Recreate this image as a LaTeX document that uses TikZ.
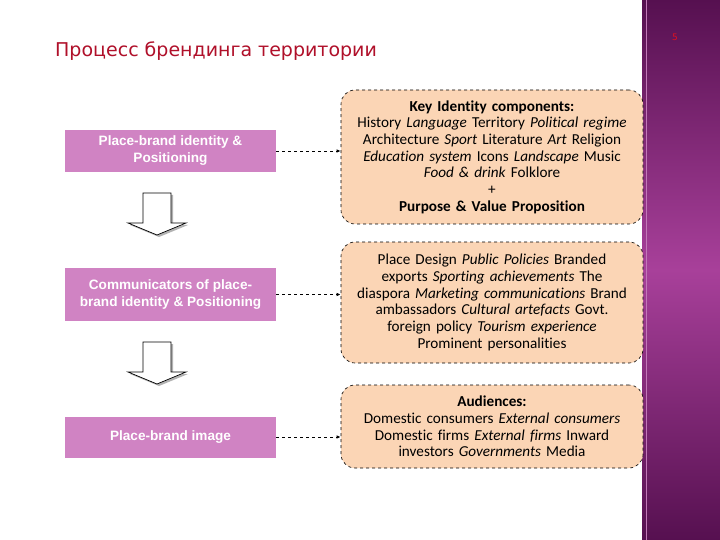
\documentclass[tikz,border=0pt]{standalone}
\usepackage{fontspec}
\setmainfont{Carlito}[Ligatures={NoCommon}]
\newfontfamily\titlefont{DejaVu Sans}
\newfontfamily\boxfont{Liberation Sans}
\usetikzlibrary{arrows.meta}
\definecolor{pinkfill}{HTML}{D083C3}
\definecolor{peach}{HTML}{FBD5B5}
\definecolor{titlered}{HTML}{B0102A}
\definecolor{pgred}{HTML}{E01020}
\definecolor{bandtop}{HTML}{561050}
\definecolor{bandmid}{HTML}{A8409A}
\tikzset{
  pinkbox/.style={fill=pinkfill, draw=none, minimum width=211pt, minimum height=42pt,
    text=white, font=\boxfont\bfseries\fontsize{13.6}{17}\selectfont, align=center, inner sep=2pt},
  peachbox/.style={fill=peach, draw=black, dashed, line width=0.6pt, rounded corners=14pt,
    minimum width=302pt, align=center, text width=296pt,
    font=\fontsize{15.2}{16.7}\selectfont, inner sep=3pt},
  link/.style={draw=black, dashed, line width=0.8pt, -{Latex[length=4pt,width=3.5pt]}},
  blockarrow/.style={fill=white, draw=black, line width=0.7pt},
  blockshadow/.style={fill=gray!60, draw=none}
}
\begin{document}
\begin{tikzpicture}[x=1pt,y=-1pt]
\useasboundingbox (0,0) rectangle (720,540);
\fill[white] (0,0) rectangle (720,540);
% right band
\shade[top color=bandtop, bottom color=bandtop, middle color=bandmid] (642,0) rectangle (720,540);
\draw[bandmid!70!white, line width=1pt] (646,0) -- (646,540);
\node[text=pgred, font=\titlefont\fontsize{9}{10}\selectfont] (pg) at (675,37) {5};
% title
\node[anchor=base west, text=titlered, font=\titlefont\fontsize{19}{22}\selectfont, inner sep=0pt] (title) at (55,57) {Процесс брендинга территории};
% left boxes
\node[pinkbox] (p1) at (170.5,151) {Place-brand identity \&\\Positioning};
\node[pinkbox, minimum height=53pt] (p2) at (170.5,294.5) {Communicators of place-\\brand identity \& Positioning};
\node[pinkbox, minimum height=41pt] (p3) at (170.5,437) {Place-brand image};
% block arrows
\foreach \y in {0,149}{
  \fill[blockshadow] (145,195+\y) -- (173,195+\y) -- (173,225+\y) -- (188,225+\y) -- (159,237+\y) -- (130,225+\y) -- (145,225+\y) -- cycle;
  \draw[blockarrow] (143,193+\y) -- (171,193+\y) -- (171,223+\y) -- (186,223+\y) -- (157,235+\y) -- (128,223+\y) -- (143,223+\y) -- cycle;
}
% right boxes
\node[peachbox, minimum height=134pt] (b1) at (492,157) {\textbf{Key Identity components:}\\
History \textit{Language} Territory \textit{Political regime}\\
Architecture \textit{Sport} Literature \textit{Art} Religion\\
\textit{Education system} Icons \textit{Landscape} Music\\
\textit{Food \& drink} Folklore\\
+\\
\textbf{Purpose \& Value Proposition}};
\node[peachbox, minimum height=121pt] (b2) at (492,302.5) {Place Design \textit{Public Policies} Branded\\
exports \textit{Sporting achievements} The\\
diaspora \textit{Marketing communications} Brand\\
ambassadors \textit{Cultural artefacts} Govt.\\
foreign policy \textit{Tourism experience}\\
Prominent personalities};
\node[peachbox, minimum height=83pt] (b3) at (492,426.5) {\textbf{Audiences:}\\
Domestic consumers \textit{External consumers}\\
Domestic firms \textit{External firms} Inward\\
investors \textit{Governments} Media};
% links
\draw[link] (p1.east) -- (b1.west |- p1.east);
\draw[link] (p2.east) -- (b2.west |- p2.east);
\draw[link] (p3.east) -- (b3.west |- p3.east);
\end{tikzpicture}
\end{document}
